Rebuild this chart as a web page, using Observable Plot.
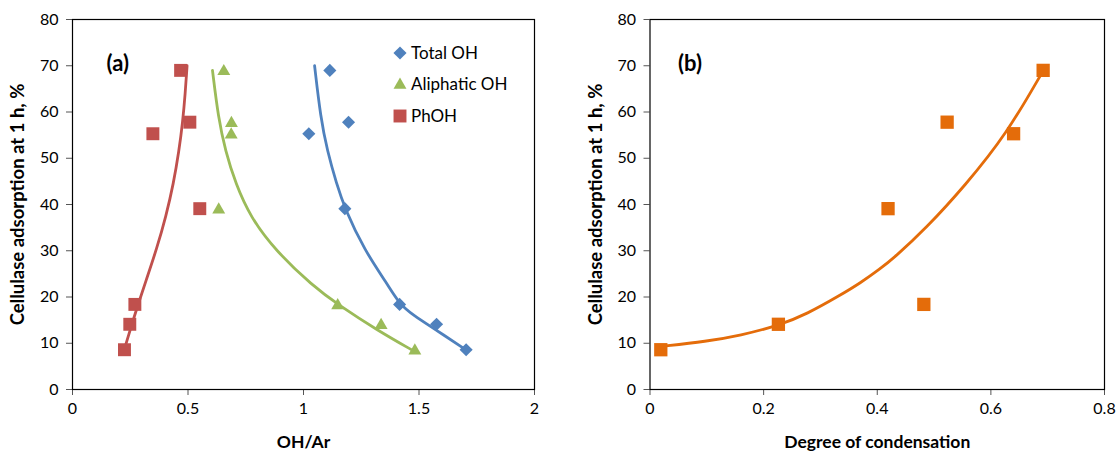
<!DOCTYPE html>
<html>
<head>
<meta charset="utf-8">
<script src="https://cdn.jsdelivr.net/npm/d3@7"></script>
<script src="https://cdn.jsdelivr.net/npm/@observablehq/plot@0.6"></script>
<style>
  html, body { margin: 0; padding: 0; background: #fff; }
  #wrap { position: relative; width: 1118px; height: 454px; font-family: Lato, "Open Sans", sans-serif; }
  #left, #right { position: absolute; top: 0; }
  #left { left: 0; }
  #right { left: 560px; }
  .leg { position: absolute; font-size: 17px; color: #000; line-height: 20px; white-space: nowrap; }
  .leg svg { position: absolute; }
</style>
</head>
<body>
<div id="wrap">
  <div id="left"></div>
  <div id="right"></div>
  <div id="legend"></div>
</div>
<script>
// ---- data ----
const adsorption = [69, 57.8, 55.3, 39.1, 18.4, 14.1, 8.6];          // Cellulase adsorption at 1 h, %
const totalOH = [1.114, 1.195, 1.023, 1.179, 1.416, 1.576, 1.704];   // OH/Ar
const aliphaticOH = [0.655, 0.688, 0.687, 0.633, 1.148, 1.336, 1.482];
const phOH = [0.468, 0.508, 0.348, 0.551, 0.270, 0.248, 0.225];
const condensation = [0.692, 0.523, 0.640, 0.419, 0.482, 0.226, 0.019];

// trendlines
const totalTrendX = [1.048, 1.074, 1.103, 1.143, 1.179, 1.264, 1.362, 1.416, 1.478, 1.564, 1.702];
const totalTrendY = [70, 58.8, 51.6, 44.5, 39.1, 30.1, 22.9, 18.4, 16.0, 13.2, 8.6];
const aliphTrendX = [0.606, 0.631, 0.662, 0.706, 0.771, 0.879, 1.040, 1.148, 1.320, 1.478];
const aliphTrendY = [69, 58.8, 51.6, 44.5, 37.2, 30.0, 22.4, 18.4, 12.8, 8.3];
const phTrendX = [0.228, 0.257, 0.284, 0.318, 0.365, 0.405, 0.437, 0.461, 0.477, 0.488, 0.496];
const phTrendY = [9.3, 14.1, 18.4, 23.5, 30.5, 37.5, 44.5, 51.6, 57.8, 64, 70];
const condTrendX = [0.018, 0.100, 0.159, 0.226, 0.276, 0.335, 0.370, 0.405, 0.429, 0.487, 0.554, 0.628, 0.690];
const condTrendY = [9.3, 10.4, 11.7, 13.8, 16.3, 20.4, 23.0, 26.1, 28.4, 35.0, 44.0, 55.3, 68.5];

const xTicksA = [0, 0.5, 1, 1.5, 2];
const xTicksB = [0, 0.2, 0.4, 0.6, 0.8];
const yTicks = [0, 10, 20, 30, 40, 50, 60, 70, 80];

const seriesNames = ["Total OH", "Aliphatic OH", "PhOH"];
const colors = {"Total OH": "#4F81BD", "Aliphatic OH": "#9BBB59", "PhOH": "#C0504D"};
const orange = "#E46C0A";

const pts = (xs, ys) => xs.map((x, i) => ({x, y: ys[i]}));

const yLabel = "Cellulase adsorption at 1 h, %";
const font = "Lato, 'Open Sans', sans-serif";

function axes(xTicks) {
  return [
    Plot.axisX({ticks: xTicks, tickSize: 6, tickPadding: 7, fontSize: 16, label: null, stroke: "#555", tickFormat: d => String(d)}),
    Plot.axisY({ticks: yTicks, tickSize: 6, tickPadding: 8, fontSize: 16, label: null, stroke: "#555"}),
    Plot.frame({stroke: "#000", strokeWidth: 1.2}),
  ];
}

const left = Plot.plot({
  width: 560, height: 454,
  marginLeft: 72, marginRight: 26, marginTop: 19, marginBottom: 65,
  style: {fontFamily: font, color: "#000", background: "transparent", overflow: "visible"},
  x: {domain: [0, 2]},
  y: {domain: [0, 80]},
  marks: [
    ...axes(xTicksA),
    Plot.line(pts(totalTrendX, totalTrendY), {x: "x", y: "y", stroke: colors["Total OH"], strokeWidth: 2.8, curve: "basis"}),
    Plot.line(pts(aliphTrendX, aliphTrendY), {x: "x", y: "y", stroke: colors["Aliphatic OH"], strokeWidth: 2.8, curve: "basis"}),
    Plot.line(pts(phTrendX, phTrendY), {x: "x", y: "y", stroke: colors["PhOH"], strokeWidth: 2.8, curve: "basis"}),
    Plot.dot(pts(totalOH, adsorption), {x: "x", y: "y", symbol: "diamond2", r: 5.9, fill: colors["Total OH"], stroke: null}),
    Plot.dot(pts(aliphaticOH, adsorption), {x: "x", y: "y", symbol: "triangle", r: 4.8, fill: colors["Aliphatic OH"], stroke: null, dy: 1}),
    Plot.dot(pts(phOH, adsorption), {x: "x", y: "y", symbol: "square", r: 7.3, fill: colors["PhOH"], stroke: null}),
    Plot.text(["(a)"], {text: d => d, frameAnchor: "top-left", dx: 34, dy: 44, textAnchor: "start", lineAnchor: "middle", fontWeight: "bold", fontSize: 22}),
    Plot.text(["OH/Ar"], {text: d => d, frameAnchor: "bottom", dy: 53, lineAnchor: "middle", fontWeight: "bold", fontSize: 17.5}),
    Plot.text([yLabel], {text: d => d, frameAnchor: "left", dx: -54, rotate: -90, textAnchor: "middle", lineAnchor: "middle", fontWeight: "bold", fontSize: 18.5}),
  ]
});
document.getElementById("left").appendChild(left);

const right = Plot.plot({
  width: 558, height: 454,
  marginLeft: 89.5, marginRight: 14, marginTop: 19, marginBottom: 65,
  style: {fontFamily: font, color: "#000", background: "transparent", overflow: "visible"},
  x: {domain: [0, 0.8]},
  y: {domain: [0, 80]},
  marks: [
    ...axes(xTicksB),
    Plot.line(pts(condTrendX, condTrendY), {x: "x", y: "y", stroke: orange, strokeWidth: 2.8, curve: "basis"}),
    Plot.dot(pts(condensation, adsorption), {x: "x", y: "y", symbol: "square", r: 7.5, fill: orange, stroke: null}),
    Plot.text(["(b)"], {text: d => d, frameAnchor: "top-left", dx: 28, dy: 44, textAnchor: "start", lineAnchor: "middle", fontWeight: "bold", fontSize: 22}),
    Plot.text(["Degree of condensation"], {text: d => d, frameAnchor: "bottom", dy: 53, lineAnchor: "middle", fontWeight: "bold", fontSize: 17.5}),
    Plot.text([yLabel], {text: d => d, frameAnchor: "left", dx: -54, rotate: -90, textAnchor: "middle", lineAnchor: "middle", fontWeight: "bold", fontSize: 18.5}),
  ]
});
document.getElementById("right").appendChild(right);

// legend (HTML)
const legend = document.getElementById("legend");
const symbolPaths = {
  "Total OH": d3.symbol(d3.symbolDiamond2, Math.PI * 5.9 * 5.9)(),
  "Aliphatic OH": d3.symbol(d3.symbolTriangle, Math.PI * 4.8 * 4.8)(),
  "PhOH": d3.symbol(d3.symbolSquare, Math.PI * 7.3 * 7.3)(),
};
seriesNames.forEach((name, i) => {
  const cy = 52.7 + i * 31.7;
  const row = document.createElement("div");
  row.className = "leg";
  row.style.left = "392px";
  row.style.top = (cy - 10) + "px";
  row.innerHTML = `<svg width="16" height="16" style="left:0;top:2px" viewBox="-8 -8 16 16"><path d="${symbolPaths[name]}" fill="${colors[name]}" transform="translate(0,${name === "Aliphatic OH" ? 1 : 0})"/></svg><span style="position:absolute;left:19px;top:0">${name}</span>`;
  legend.appendChild(row);
});
</script>
</body>
</html>
